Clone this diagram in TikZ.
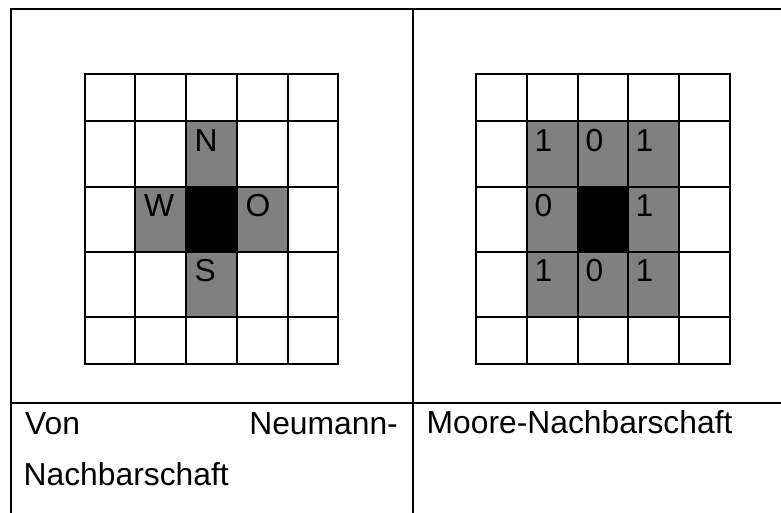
\documentclass[tikz,border=0pt]{standalone}
\usepackage{fontspec}
\setmainfont{Liberation Sans}
\definecolor{nbgray}{RGB}{128,128,128}
\tikzset{
  rule/.style={line width=2pt},
  gridline/.style={line width=2pt},
  nbcell/.style={fill=nbgray},
  midcell/.style={fill=black},
  lab/.style={anchor=base west,inner sep=0pt,font=\fontsize{31.8}{36}\selectfont},
  labr/.style={anchor=base east,inner sep=0pt,font=\fontsize{31.8}{36}\selectfont}
}
\begin{document}
\begin{tikzpicture}[x=1pt,y=-1pt]
\useasboundingbox (0,0) rectangle (781,513);
% table lines
\draw[rule] (11,513) -- (11,9) -- (781,9);
\draw[rule] (413,9) -- (413,513);
\draw[rule] (11,403) -- (781,403);
% von Neumann
\fill[nbcell] (186,121) rectangle (237,317);
\fill[nbcell] (135,187) rectangle (288,252);
\fill[midcell] (186,187) rectangle (237,252);
\foreach \x in {85,135,186,237,288,338}
  \draw[gridline] (\x,73) -- (\x,365);
\foreach \y in {74,121,187,252,317,364}
  \draw[gridline] (84,\y) -- (339,\y);
\node[lab] (N) at (194.5,151.5) {N};
\node[lab] (W) at (144,216.5) {W};
\node[lab] (O) at (245.5,216.5) {O};
\node[lab] (S) at (194.5,281.5) {S};
% Moore
\fill[nbcell] (527,121) rectangle (679,317);
\fill[midcell] (578,187) rectangle (628,252);
\foreach \x in {476,527,578,628,679,730}
  \draw[gridline] (\x,73) -- (\x,365);
\foreach \y in {74,121,187,252,317,364}
  \draw[gridline] (475,\y) -- (731,\y);
\node[lab] (m11) at (534.5,151.5) {1};
\node[lab] (m12) at (585.5,151.5) {0};
\node[lab] (m13) at (635.5,151.5) {1};
\node[lab] (m21) at (534.5,216.5) {0};
\node[lab] (m23) at (635.5,216.5) {1};
\node[lab] (m31) at (534.5,281.5) {1};
\node[lab] (m32) at (585.5,281.5) {0};
\node[lab] (m33) at (635.5,281.5) {1};
% captions
\node[lab] (von) at (25,434) {Von};
\node[labr] (neu) at (398,434) {Neumann-};
\node[lab] (nach) at (23.5,485.5) {Nachbarschaft};
\node[lab] (moore) at (426.5,433) {Moore-Nachbarschaft};
\end{tikzpicture}
\end{document}
